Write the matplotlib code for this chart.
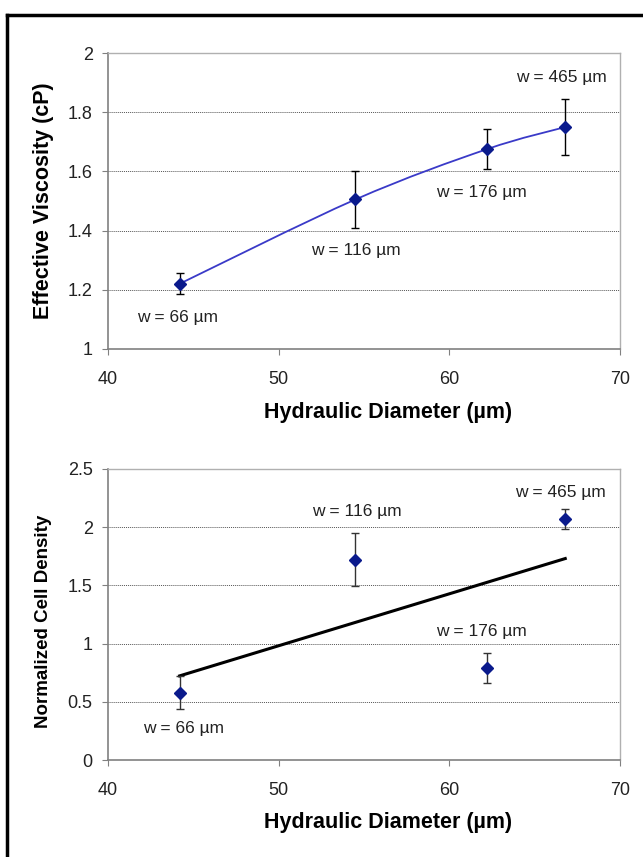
import matplotlib
matplotlib.use('Agg')
import matplotlib.pyplot as plt
from matplotlib.path import Path
from matplotlib.patches import PathPatch
from matplotlib.lines import Line2D
import numpy as np

plt.rcParams['font.family'] = ['Liberation Sans', 'DejaVu Sans']

#data
diameter = [44.2, 54.5, 62.2, 66.8]
viscosity = [1.22, 1.505, 1.675, 1.75]
visc_err = [0.035, 0.095, 0.068, 0.095]
density = [0.58, 1.72, 0.79, 2.07]
dens_err = [0.14, 0.23, 0.13, 0.085]
width_labels = ['w = 66 µm', 'w = 116 µm', 'w = 176 µm', 'w = 465 µm']

#label spots (data coords)
top_lbl_x = [44.1, 54.5, 61.9, 66.6]
top_lbl_y = [1.105, 1.334, 1.527, 1.916]
bot_lbl_x = [44.4, 54.6, 61.9, 66.5]
bot_lbl_y = [0.275, 2.13, 1.10, 2.30]

marker_col = '#0a1a8c'
line_col = '#3a3ac8'


def smooth_path(x, y, t=0.5):
    # excel-like smoothed line: catmull-rom turned into cubic bezier
    x = np.asarray(x, float)
    y = np.asarray(y, float)
    verts = [(x[0], y[0])]
    codes = [Path.MOVETO]
    n = len(x)
    for i in range(n - 1):
        p0 = np.array([x[max(i - 1, 0)], y[max(i - 1, 0)]])
        p1 = np.array([x[i], y[i]])
        p2 = np.array([x[i + 1], y[i + 1]])
        p3 = np.array([x[min(i + 2, n - 1)], y[min(i + 2, n - 1)]])
        c1 = p1 + (p2 - p0) * t / 3
        c2 = p2 - (p3 - p1) * t / 3
        verts += [tuple(c1), tuple(c2), tuple(p2)]
        codes += [Path.CURVE4] * 3
    return Path(verts, codes)


def style_axes(ax, ylim, yticks, ylabel, ylab_size, ylab_y):
    ax.set_xlim(40, 70)
    ax.set_ylim(*ylim)
    ax.set_xticks([40, 50, 60, 70])
    ax.set_yticks(yticks)
    ax.yaxis.grid(True, linestyle=(0, (1, 1)), color='#555555', linewidth=0.7)
    ax.set_axisbelow(True)
    for s in ['top', 'right']:
        ax.spines[s].set_color('#b0b0b0')
        ax.spines[s].set_linewidth(1.0)
    for s in ['left', 'bottom']:
        ax.spines[s].set_color('#808080')
        ax.spines[s].set_linewidth(1.2)
    ax.tick_params(axis='both', direction='out', length=4, color='#808080',
                   labelsize=13, labelcolor='#222222', pad=7)
    ax.tick_params(axis='x', pad=12)
    ax.set_xlabel('Hydraulic Diameter (µm)', fontsize=15.5, fontweight='bold', va='center')
    ax.xaxis.set_label_coords(0.547, -0.215)
    ax.set_ylabel(ylabel, fontsize=ylab_size, fontweight='bold', va='center')
    ax.yaxis.set_label_coords(-0.127, ylab_y)


fig = plt.figure(figsize=(6.43, 8.57), dpi=100)

#outer frame like the original page
fig.add_artist(Line2D([0.011, 1.0], [0.9825, 0.9825], transform=fig.transFigure, color='black', lw=2.5))
fig.add_artist(Line2D([0.011, 0.011], [0.9825, 0.0], transform=fig.transFigure, color='black', lw=2.5))

#top chart: viscosity
ax1 = fig.add_axes([0.168, 0.593, 0.796, 0.345])
style_axes(ax1, (1, 2), [1, 1.2, 1.4, 1.6, 1.8, 2], 'Effective Viscosity (cP)', 15.5, 0.5)
ax1.set_yticklabels(['1', '1.2', '1.4', '1.6', '1.8', '2'])
ax1.add_patch(PathPatch(smooth_path(diameter, viscosity), facecolor='none',
                        edgecolor=line_col, lw=1.3, zorder=3))
ax1.errorbar(diameter, viscosity, yerr=visc_err, fmt='D', color=marker_col,
             markersize=6, ecolor='black', elinewidth=1.0, capsize=3, capthick=1.0, zorder=4)
for lx, ly, t in zip(top_lbl_x, top_lbl_y, width_labels):
    ax1.text(lx, ly, t, ha='center', va='center', fontsize=12.5, color='#222222')

#bottom chart: cell density with linear fit
ax2 = fig.add_axes([0.168, 0.113, 0.796, 0.34])
style_axes(ax2, (0, 2.5), [0, 0.5, 1, 1.5, 2, 2.5], 'Normalized Cell Density', 13.5, 0.475)
ax2.set_yticklabels(['0', '0.5', '1', '1.5', '2', '2.5'])
coef = np.polyfit(diameter, density, 1)
fit_x = np.array([min(diameter), max(diameter)])
ax2.plot(fit_x, np.polyval(coef, fit_x), color='black', lw=2.2, zorder=3)
ax2.errorbar(diameter, density, yerr=dens_err, fmt='D', color=marker_col,
             markersize=6, ecolor='#333333', elinewidth=1.0, capsize=3, capthick=1.0, zorder=4)
for lx, ly, t in zip(bot_lbl_x, bot_lbl_y, width_labels):
    ax2.text(lx, ly, t, ha='center', va='center', fontsize=12.5, color='#222222')

plt.savefig('out.png', dpi=100)
